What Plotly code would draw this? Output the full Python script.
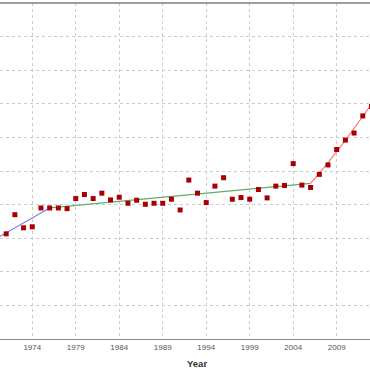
import plotly.graph_objects as go

years = list(range(1971, 2014))
values = [31.3, 37.0, 33.1, 33.4, 39.0, 39.0, 39.0, 38.8, 41.8, 43.0,
          41.8, 43.4, 41.4, 42.2, 40.4, 41.3, 40.1, 40.4, 40.4, 41.6,
          38.4, 47.3, 43.4, 40.6, 45.5, 48.0, 41.6, 42.1, 41.6, 44.5,
          42.0, 45.5, 45.7, 52.2, 45.8, 45.1, 49.0, 51.8, 56.4, 59.2,
          61.3, 66.4, 69.2]

trend1_x = [1970, 1976]
trend1_y = [30.1, 39.0]
trend2_x = [1976, 2006]
trend2_y = [39.0, 46.3]
trend3_x = [2006, 2008, 2010, 2013]
trend3_y = [46.3, 52.5, 59.2, 69.9]

tick_years = [1974, 1979, 1984, 1989, 1994, 1999, 2004, 2009]

fig = go.Figure()
fig.add_trace(go.Scatter(x=trend1_x, y=trend1_y, mode="lines",
                         line=dict(color="#8478ee", width=1.2), showlegend=False))
fig.add_trace(go.Scatter(x=trend2_x, y=trend2_y, mode="lines",
                         line=dict(color="#5fae6e", width=1.2), showlegend=False))
fig.add_trace(go.Scatter(x=trend3_x, y=trend3_y, mode="lines",
                         line=dict(color="#ff7a7a", width=1.2, shape="spline"), showlegend=False))
fig.add_trace(go.Scatter(x=years, y=values, mode="markers",
                         marker=dict(symbol="square", size=5, color="#a80000",
                                     line=dict(width=0)), showlegend=False))

fig.update_layout(
    width=370, height=370,
    autosize=False,
    margin=dict(l=0, r=0, t=3, b=31, pad=0),
    paper_bgcolor="white", plot_bgcolor="white",
    xaxis=dict(range=[1970.29, 2012.83], tickmode="array", tickvals=tick_years,
               ticktext=[str(y) for y in tick_years],
               showgrid=True, gridcolor="#cccccc", griddash="dot", gridwidth=1,
               zeroline=False, showline=True, linecolor="#8c8c8c", linewidth=1,
               ticks="", tickfont=dict(family="Liberation Sans Narrow, Arial", size=8, color="#555555")),
    yaxis=dict(range=[0, 100], dtick=10, showticklabels=False,
               showgrid=True, gridcolor="#cccccc", griddash="dot", gridwidth=1,
               zeroline=False, showline=False),
    shapes=[dict(type="line", xref="paper", yref="paper", x0=0, x1=1, y0=1, y1=1,
                 line=dict(color="#808080", width=1.5))],
    annotations=[dict(text="<b>Year</b>", xref="paper", yref="paper",
                      x=197/370, y=-0.073, xanchor="center", yanchor="middle",
                      showarrow=False, font=dict(family="Liberation Sans, Arial", size=9.5, color="#333333"))],
)

fig.write_html("out.html", config={"responsive": False, "displayModeBar": False},
               post_script="document.body.style.margin='0';document.body.style.padding='0';document.body.style.overflow='hidden';")
